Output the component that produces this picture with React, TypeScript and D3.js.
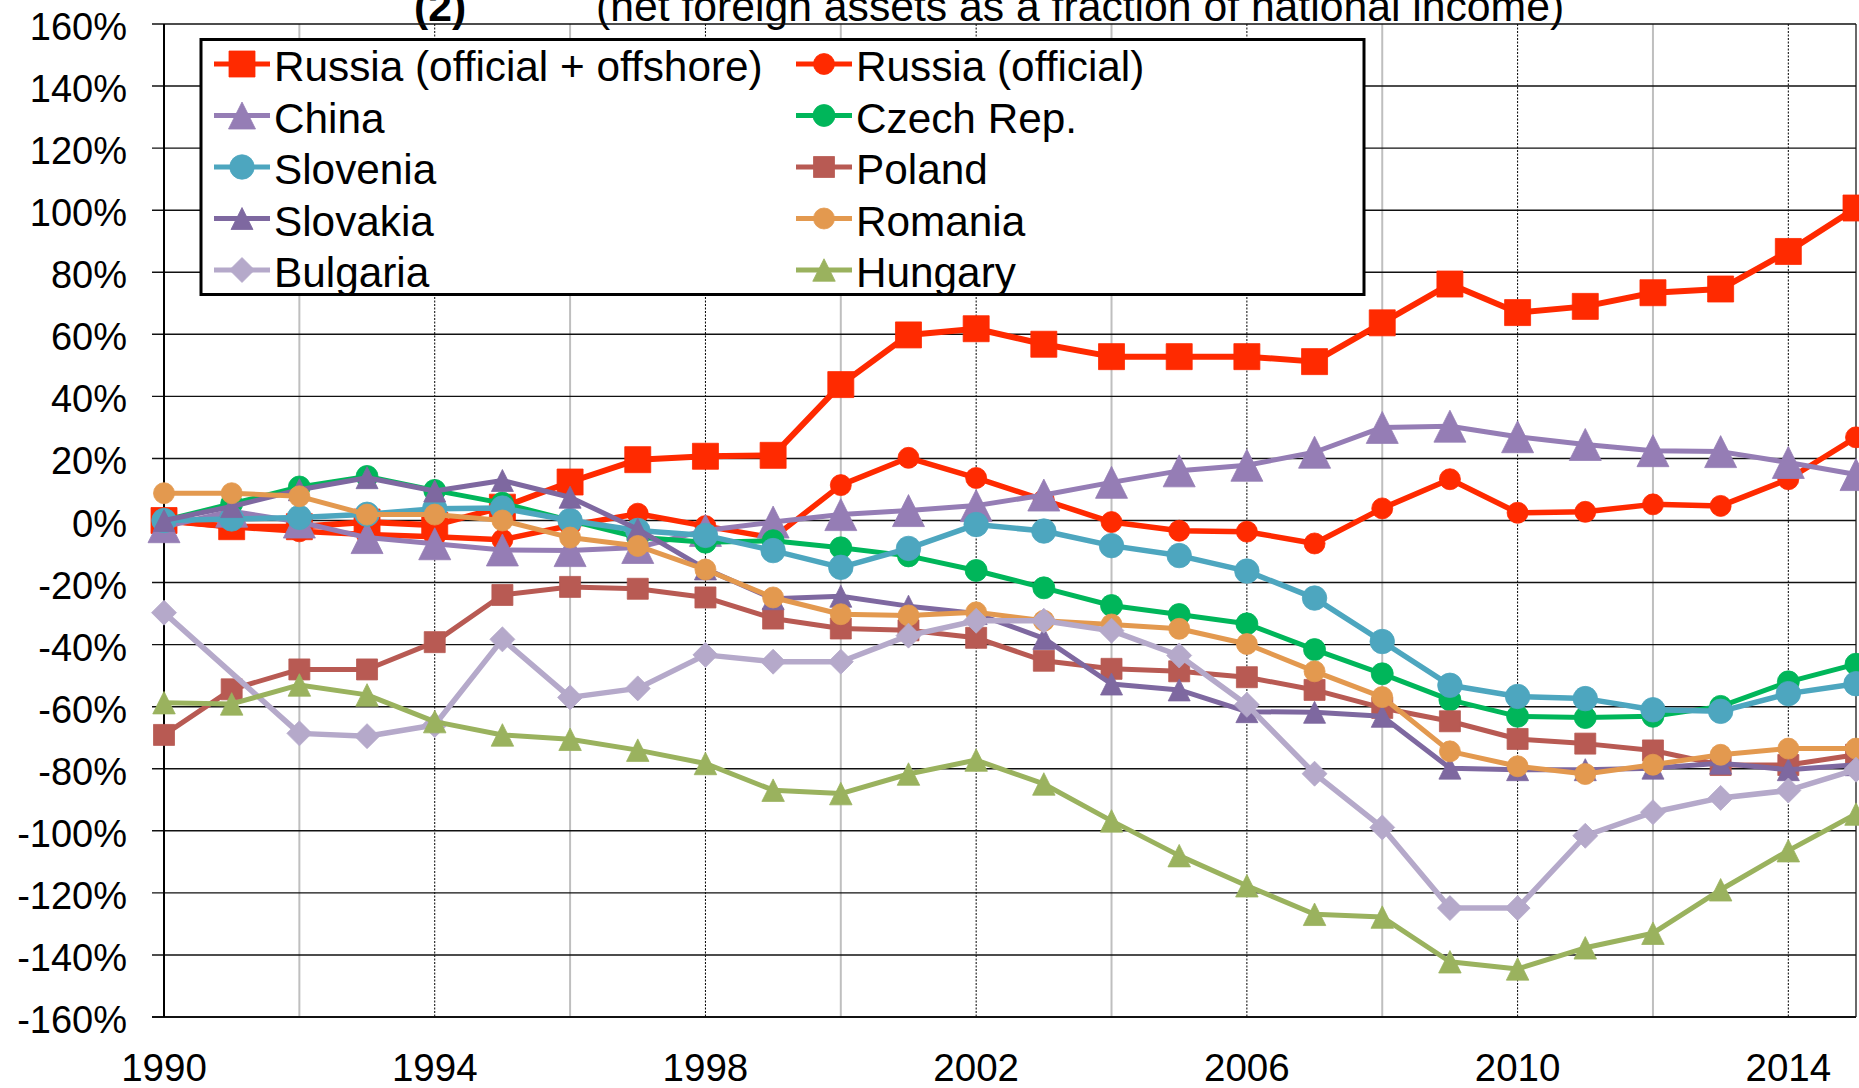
import React from "react";
import * as d3 from "d3";

const years = [1990, 1991, 1992, 1993, 1994, 1995, 1996, 1997, 1998, 1999, 2000, 2001, 2002, 2003, 2004, 2005, 2006, 2007, 2008, 2009, 2010, 2011, 2012, 2013, 2014, 2015];

const russiaOffshore = [0, -2, -2, -0.5, -1.5, 4.3, 12.4, 19.6, 20.7, 21.0, 43.8, 59.8, 61.8, 56.8, 52.8, 52.8, 52.8, 51.2, 63.7, 76.2, 67, 69, 73.4, 74.6, 86.7, 100.7];
const russiaOfficial = [0, -2, -3.5, -4.5, -5.2, -6.2, -1.6, 2.2, -1.8, -5.6, 11.4, 20.2, 13.7, 6.6, -0.5, -3.3, -3.6, -7.4, 3.9, 13.3, 2.5, 2.8, 5.2, 4.7, 13.3, 26.8];
const china = [-2, 3, -0.5, -5.5, -7.5, -9.5, -9.7, -8.7, -3.2, -0.5, 1.9, 3.2, 4.8, 8.2, 12.3, 16, 17.8, 22, 30, 30.4, 27, 24.5, 22.5, 22.2, 18.7, 14.8];
const czech = [0, 5.4, 10.8, 14.2, 9.7, 5.6, 0, -5.4, -7, -6.5, -8.8, -11.4, -16.1, -21.7, -27.4, -30.3, -33.3, -41.6, -49.4, -57.8, -63.1, -63.5, -63.1, -59.9, -52, -46.3];
const slovenia = [0, 0.5, 1, 2, 3.8, 4, 0, -3.2, -4.8, -9.7, -15.1, -9, -1.3, -3.4, -8.1, -11.3, -16.3, -25, -39, -53.1, -56.7, -57.4, -61, -61.5, -55.8, -52.6];
const poland = [-69.1, -54.4, -48, -48, -39.2, -24, -21.4, -22, -24.8, -31.6, -34.8, -35.4, -37.8, -45.2, -47.8, -48.6, -50.5, -54.6, -60.4, -64.7, -70.4, -71.9, -74.1, -78.8, -78.8, -75.5];
const slovakia = [0, 4.5, 9.9, 13.8, 9.5, 12.9, 7.5, -2.8, -15.6, -25.2, -24.4, -27.6, -30, -38, -52.7, -54.6, -61.6, -61.8, -63.1, -79.8, -80.3, -80.3, -79.8, -78.2, -80.3, -78.7];
const romania = [8.8, 8.8, 7.8, 1.9, 1.9, 0, -5.5, -8.2, -15.8, -24.8, -30.2, -30.6, -29.6, -32.3, -33.5, -34.9, -39.8, -48.6, -56.9, -74.4, -79.2, -81.7, -78.7, -75.5, -73.5, -73.5];
const bulgaria = [-29.7, null, -68.6, -69.5, -65.9, -38.3, -57, -54.1, -43.3, -45.5, -45.5, -37.1, -32.3, -32.3, -35.5, -43.5, -59.4, -81.6, -98.9, -124.9, -124.9, -101.6, -94, -89.4, -87, -80.3];
const hungary = [-58.7, -59.1, -53, -56.2, -64.8, -69.1, -70.5, -74, -78.3, -86.9, -88, -81.7, -77.2, -84.9, -96.8, -108, -117.7, -126.9, -127.8, -142.2, -144.5, -137.7, -133, -119, -106.4, -94.6];

const seriesNames = ["Russia (official + offshore)", "Russia (official)", "China", "Czech Rep.", "Slovenia", "Poland", "Slovakia", "Romania", "Bulgaria", "Hungary"];

const yTicks = [-160, -140, -120, -100, -80, -60, -40, -20, 0, 20, 40, 60, 80, 100, 120, 140, 160];
const xLabelYears = [1990, 1994, 1998, 2002, 2006, 2010, 2014];
const grayGridYears = [1992, 1996, 2000, 2004, 2008, 2012];
const dottedGridYears = [1994, 1998, 2002, 2006, 2010, 2014];

const titleNumber = "(2)";
const titleText = "(net foreign assets as a fraction of national income)";

const styles = [
  { color: "#FF2A00", shape: "square", size: 26, width: 6 },
  { color: "#FF2A00", shape: "circle", size: 21, width: 5.5 },
  { color: "#957DB5", shape: "triangle", size: 32, width: 5 },
  { color: "#00B65A", shape: "circle", size: 22, width: 5 },
  { color: "#4DA6BF", shape: "circle", size: 24.5, width: 5.5 },
  { color: "#B85A53", shape: "square", size: 21, width: 5 },
  { color: "#7E68A0", shape: "triangle", size: 22, width: 5 },
  { color: "#E3994F", shape: "circle", size: 21, width: 5 },
  { color: "#B5A9CA", shape: "diamond", size: 25, width: 5.5 },
  { color: "#9AB25E", shape: "triangle", size: 22.5, width: 5 },
];

const seriesValues = [russiaOffshore, russiaOfficial, china, czech, slovenia, poland, slovakia, romania, bulgaria, hungary];

const W = 1859;
const H = 1088;
const FONT = "'Liberation Sans', Arial, Helvetica, sans-serif";

function Marker({ shape, cx, cy, s, color }: { shape: string; cx: number; cy: number; s: number; color: string }) {
  const h = s / 2;
  if (shape === "circle") return <circle cx={cx} cy={cy} r={h} fill={color} stroke={color} strokeWidth={0.8} />;
  let d = "";
  if (shape === "square") d = `M${cx - h},${cy - h}h${s}v${s}h${-s}Z`;
  else if (shape === "triangle") d = `M${cx},${cy - h}L${cx + h},${cy + h}L${cx - h},${cy + h}Z`;
  else d = `M${cx},${cy - h}L${cx + h},${cy}L${cx},${cy + h}L${cx - h},${cy}Z`;
  return <path d={d} fill={color} stroke={color} strokeWidth={0.8} />;
}

export default function App() {
  const x = d3.scaleLinear().domain([1990, 2015]).range([164, 1856]);
  const y = d3.scaleLinear().domain([-160, 160]).range([1017, 24]);
  const line = d3.line<{ yr: number; v: number }>().x((d) => x(d.yr)).y((d) => y(d.v));

  const series = seriesNames.map((name, i) => ({
    name,
    ...styles[i],
    pts: years.map((yr, j) => ({ yr, v: seriesValues[i][j] as number | null })).filter((p) => p.v !== null) as { yr: number; v: number }[],
  }));

  const legX = [214, 796];
  const legRow0 = 64;
  const legRowStep = 51.5;

  return (
    <svg width={W} height={H} style={{ position: "absolute", left: 0, top: 0, background: "#fff" }} fontFamily={FONT}>
      <rect x={0} y={0} width={W} height={H} fill="#fff" />
      {/* title (clipped at top as in the reference) */}
      <text x={414} y={21} fontSize={42.7} fontWeight="bold" fill="#000">{titleNumber}</text>
      <text x={596} y={21} fontSize={42.7} fill="#000">{titleText}</text>

      {/* vertical grid */}
      {grayGridYears.map((yr) => (
        <line key={"g" + yr} x1={x(yr)} x2={x(yr)} y1={y(160)} y2={y(-160)} stroke="#BFBFBF" strokeWidth={2} />
      ))}
      {dottedGridYears.map((yr) => (
        <line key={"d" + yr} x1={x(yr)} x2={x(yr)} y1={y(160)} y2={y(-160)} stroke="#000" strokeWidth={1} strokeDasharray="2,1.5" />
      ))}
      {/* horizontal grid */}
      {yTicks.map((t) => (
        <line key={"h" + t} x1={x(1990) - 12} x2={x(2015)} y1={y(t)} y2={y(t)} stroke="#111" strokeWidth={t === -160 ? 2 : 1.4} />
      ))}
      {/* right border */}
      <line x1={x(2015)} x2={x(2015)} y1={y(160)} y2={y(-160)} stroke="#1a1a1a" strokeWidth={1.3} />
      {/* y axis */}
      <line x1={x(1990)} x2={x(1990)} y1={y(160)} y2={y(-160)} stroke="#000" strokeWidth={2} />

      {/* y tick labels */}
      {yTicks.map((t) => (
        <text key={"yl" + t} x={127} y={y(t) + 16} fontSize={38} textAnchor="end" fill="#000">{`${t}%`}</text>
      ))}
      {/* x labels */}
      {xLabelYears.map((yr) => (
        <text key={"xl" + yr} x={x(yr)} y={1081} fontSize={38.5} textAnchor="middle" fill="#000">{yr}</text>
      ))}

      {/* series */}
      {series.map((s) => (
        <g key={s.name}>
          <path d={line(s.pts) || ""} fill="none" stroke={s.color} strokeWidth={s.width} strokeLinejoin="round" />
          {s.pts.map((p) => (
            <Marker key={p.yr} shape={s.shape} cx={x(p.yr)} cy={y(p.v)} s={s.size} color={s.color} />
          ))}
        </g>
      ))}

      {/* legend */}
      <rect x={201} y={39.5} width={1163} height={255} fill="#fff" stroke="#000" strokeWidth={3} />
      {series.map((s, i) => {
        const col = i % 2;
        const row = Math.floor(i / 2);
        const lx = legX[col];
        const ly = legRow0 + row * legRowStep;
        return (
          <g key={"lg" + s.name}>
            <line x1={lx} x2={lx + 56} y1={ly} y2={ly} stroke={s.color} strokeWidth={5} />
            <Marker shape={s.shape} cx={lx + 28} cy={ly} s={Math.min(s.size, 27)} color={s.color} />
            <text x={lx + 60} y={ly + 17} fontSize={42.3} fill="#000">{s.name}</text>
          </g>
        );
      })}
    </svg>
  );
}
